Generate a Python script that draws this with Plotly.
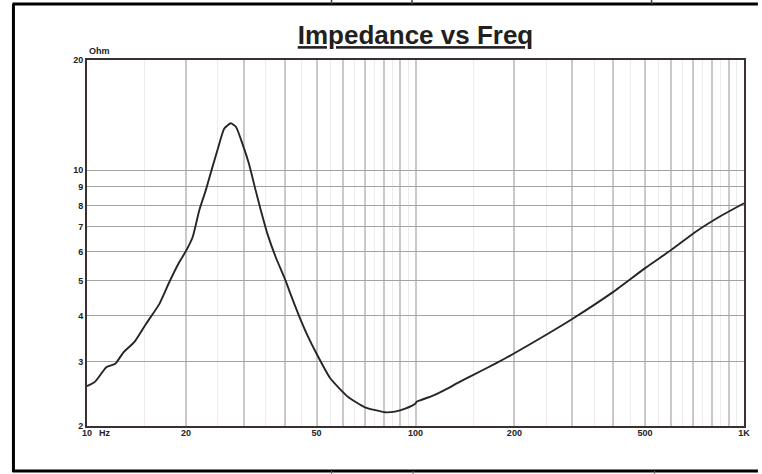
import plotly.graph_objects as go

# ---- data ----
freq_hz = [10, 10.57, 11.47, 12.2, 12.88, 13.97, 15.15, 16.63, 17.8, 19.1, 19.94, 20.98,
           21.98, 23.0, 24.1, 24.96, 26.17, 27.4, 28.4, 29.7, 31.1, 32.6, 33.8, 35.4, 37.5,
           40.2, 41.6, 44.2, 47, 50, 55, 62.4, 70.2, 80.9, 86.6, 93, 99.8, 100.8, 103.3, 114,
           125, 134, 150, 175, 200, 250, 300, 400, 500, 600, 713, 842, 1000]
impedance_ohm = [2.57, 2.64, 2.90, 2.96, 3.17, 3.40, 3.81, 4.32, 4.94, 5.61, 5.98, 6.57,
                 7.78, 8.82, 10.21, 11.35, 13.0, 13.43, 13.14, 11.84, 10.43, 8.82, 7.78, 6.71, 5.80,
                 5.0, 4.60, 4.0, 3.52, 3.15, 2.70, 2.40, 2.25, 2.18, 2.19, 2.23, 2.30, 2.33, 2.35, 2.43,
                 2.53, 2.62, 2.76, 2.96, 3.16, 3.55, 3.92, 4.65, 5.4, 6.05, 6.79, 7.46, 8.12]

x_major = [10, 20, 30, 40, 50, 60, 70, 80, 90, 100, 200, 300, 400, 500, 600, 700, 800, 900, 1000]
x_minor = [15, 25, 35, 45, 55, 65, 75, 85, 95, 150, 250, 350, 450, 550, 650, 750, 850, 950]
x_labels = {10: "10", 20: "20", 50: "50", 100: "100", 200: "200", 500: "500", 1000: "1K"}
y_ticks = [2, 3, 4, 5, 6, 7, 8, 9, 10, 20]
y_labels = ["2", "3", "4", "5", "6", "7", "8", "9", "10", "20"]

W, H = 762, 474
L, R, T, B = 87, 14, 60, 48
PW, PH = W - L - R, H - T - B

def px(xp):
    return (xp - L) / PW

def py(yp):
    return (H - B - yp) / PH

FONT = "Liberation Sans, Arial, sans-serif"
DARK = "#2b2324"

fig = go.Figure()
fig.add_trace(go.Scatter(
    x=freq_hz, y=impedance_ohm, mode="lines",
    line=dict(color=DARK, width=1.9, shape="spline", smoothing=0.5),
    hoverinfo="skip",
))

fig.update_layout(
    width=W, height=H,
    margin=dict(l=L, r=R, t=T, b=B),
    paper_bgcolor="white", plot_bgcolor="white",
    showlegend=False,
    title=dict(text="<b><u>Impedance vs Freq</u></b>", x=0.5, xref="paper", xanchor="center",
               y=1 - 35 / H, yref="container", yanchor="middle",
               font=dict(family=FONT, size=26, color="#231f20")),
)

fig.update_xaxes(
    type="log", range=[1, 3],
    tickmode="array", tickvals=x_major,
    ticktext=[x_labels.get(v, "") for v in x_major],
    tickfont=dict(family=FONT, size=9, color="#222222", weight="bold"),
    ticks="", ticklabelstandoff=-3,
    showgrid=True, gridcolor="#c9c9c9", gridwidth=1.5,
    minor=dict(tickvals=x_minor, showgrid=True, gridcolor="#ececec", gridwidth=1.2, ticks=""),
    showline=True, linecolor="#3a3031", linewidth=2, mirror=True,
    zeroline=False,
)
fig.update_yaxes(
    type="log", range=[0.30103, 1.30103],
    tickmode="array", tickvals=y_ticks, ticktext=y_labels,
    tickfont=dict(family=FONT, size=9, color="#222222", weight="bold"),
    ticks="", showgrid=True, gridcolor="#a3a3a3", gridwidth=1.2,
    showline=True, linecolor="#3a3031", linewidth=2, mirror=True,
    zeroline=False,
)

fig.add_annotation(text="<b>Ohm</b>", xref="paper", yref="paper", x=px(100), y=py(51),
                   xanchor="center", yanchor="middle",
                   showarrow=False, font=dict(family=FONT, size=9, color="#222222"))
fig.add_annotation(text="<b>Hz</b>", xref="paper", yref="paper", x=px(105), y=py(433),
                   xanchor="center", yanchor="middle", showarrow=False,
                   font=dict(family=FONT, size=9, color="#222222"))

# surrounding page frame
frame = dict(color="black", width=3)
fig.add_shape(type="line", xref="paper", yref="paper", x0=px(13), x1=px(13), y0=py(4), y1=py(472), line=frame)
fig.add_shape(type="line", xref="paper", yref="paper", x0=px(12), x1=px(W), y0=py(4), y1=py(4), line=frame)
fig.add_shape(type="line", xref="paper", yref="paper", x0=px(12), x1=px(W), y0=py(471), y1=py(471), line=frame)
for xd in [333, 414, 655]:
    fig.add_shape(type="line", xref="paper", yref="paper", x0=px(xd), x1=px(xd), y0=py(0), y1=py(4),
                  line=dict(color="#444444", width=1.5))
for xd in [333, 415, 658]:
    fig.add_shape(type="line", xref="paper", yref="paper", x0=px(xd), x1=px(xd), y0=py(471), y1=py(474),
                  line=dict(color="#666666", width=1))

fig.write_html("out.html", config={"displayModeBar": False},
               post_script="document.body.style.margin='0';document.body.style.overflow='hidden';")
